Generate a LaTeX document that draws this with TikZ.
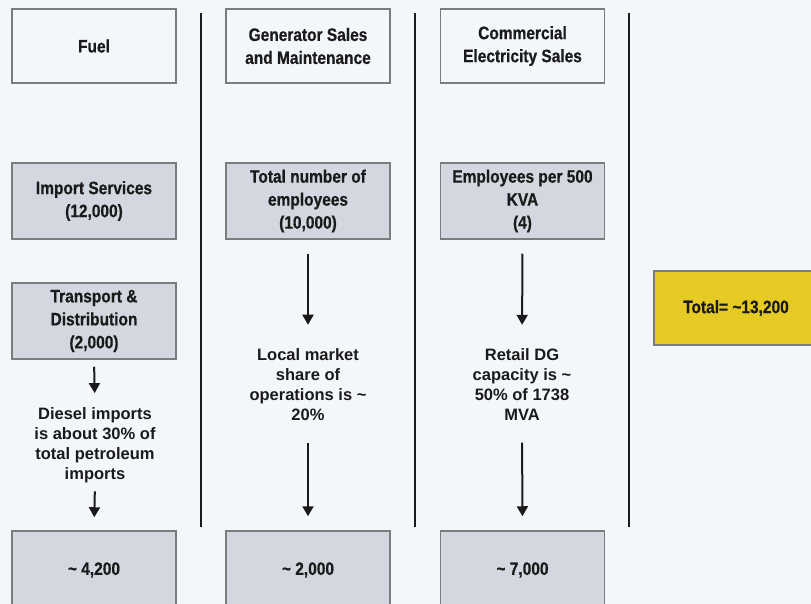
\documentclass[tikz,border=0pt]{standalone}
\usepackage{fontspec}
\setmainfont{Liberation Sans}
\newfontfamily\condfont[FakeStretch=0.86,FakeBold=0.6]{Liberation Sans}
\usetikzlibrary{arrows.meta}
\definecolor{bg}{HTML}{F3F7FB}
\definecolor{boxgrey}{HTML}{D3D8E0}
\definecolor{bordc}{HTML}{7C7C7C}
\definecolor{totyel}{HTML}{E5CB23}
\definecolor{inkc}{HTML}{1A1A1A}
\tikzset{
  boxbase/.style={draw=bordc, line width=1.5pt, inner sep=0pt, align=center,
    minimum width=164pt, text=inkc,
    font=\condfont\bfseries\fontsize{18}{23}\selectfont},
  hdr/.style={boxbase, fill=bg, minimum height=74pt},
  gbox/.style={boxbase, fill=boxgrey, minimum height=76pt},
  resbox/.style={boxbase, fill=boxgrey, minimum height=78pt},
  totbox/.style={boxbase, fill=totyel, minimum height=74pt},
  note/.style={inner sep=0pt, align=center, text=inkc,
    font=\bfseries\fontsize{16.5}{20}\selectfont},
  sep/.style={draw=inkc, line width=2.6pt},
  arr/.style={draw=inkc, line width=2pt, -{Triangle[length=10pt,width=11pt]}}
}
\begin{document}
\begin{tikzpicture}[x=1pt,y=-1pt]
\useasboundingbox (0,0) rectangle (811,604);
\fill[bg] (0,0) rectangle (811,604);
\clip (0,0) rectangle (811,604);

% separators
\coordinate (s1t) at (201,13); \coordinate (s1b) at (201,527);
\coordinate (s2t) at (415,13); \coordinate (s2b) at (415,527);
\coordinate (s3t) at (629,13); \coordinate (s3b) at (629,527);
\draw[sep] (s1t) -- (s1b);
\draw[sep] (s2t) -- (s2b);
\draw[sep] (s3t) -- (s3b);

% headers
\node[hdr] (h1) at (94,46) {Fuel};
\node[hdr] (h2) at (308,46) {Generator Sales\\and Maintenance};
\node[hdr] (h3) at (522.5,46) {Commercial\\Electricity Sales};

% second row
\node[gbox] (imp) at (94,201) {Import Services\\(12,000)};
\node[gbox] (emp) at (308,201) {Total number of\\employees\\(10,000)};
\node[gbox] (kva) at (522.5,201) {Employees per 500\\KVA\\(4)};

\node[gbox] (trn) at (94,321) {Transport \&\\Distribution\\(2,000)};

% notes
\node[note] (dsl) at (95,445) {Diesel imports\\is about 30\% of\\total petroleum\\imports};
\node[note] (lms) at (308,385) {Local market\\share of\\operations is \textasciitilde\\20\%};
\node[note] (rdg) at (522,385) {Retail DG\\capacity is \textasciitilde\\50\% of 1738\\MVA};

% results
\node[resbox] (r1) at (94,570) {\textasciitilde\ 4,200};
\node[resbox] (r2) at (308,570) {\textasciitilde\ 2,000};
\node[resbox] (r3) at (522.5,570) {\textasciitilde\ 7,000};

% total
\node[totbox] (tot) at (736,308) {Total= \textasciitilde13,200};

% arrows
\draw[arr, shorten <=7pt, shorten >=14pt] (trn.south) -- (dsl.north);
\draw[arr, shorten <=8.5pt, shorten >=13pt] (dsl.south) -- (r1.north);
\draw[arr, shorten <=14pt, shorten >=24pt] (emp.south) -- (lms.north);
\draw[arr, shorten <=21.5pt, shorten >=14pt] (lms.south) -- (r2.north);
\draw[arr, shorten <=14pt, shorten >=24pt] (kva.south) -- (rdg.north);
\draw[arr, shorten <=21.5pt, shorten >=14pt] (rdg.south) -- (r3.north);
\end{tikzpicture}
\end{document}
